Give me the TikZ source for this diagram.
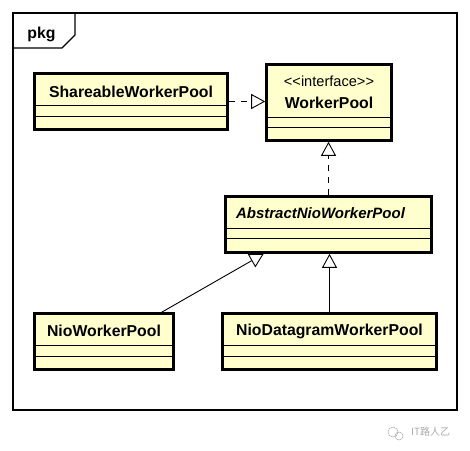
\documentclass[tikz,border=0pt]{standalone}
\usepackage{fontspec}
\setmainfont{Liberation Sans}
\newfontfamily\cjk{Noto Sans CJK SC}
\usetikzlibrary{arrows.meta,calc}
\definecolor{umlyellow}{RGB}{255,255,206}
\definecolor{wmgray}{RGB}{170,170,170}
\begin{document}
\begin{tikzpicture}[x=1pt,y=-1pt,
  clsbox/.style={draw=black, line width=2.6pt, fill=umlyellow, rectangle, inner sep=0pt, minimum height=56pt},
  divider/.style={draw=black, line width=0.9pt},
  clsname/.style={font=\fontsize{15.8}{18}\selectfont\bfseries, inner sep=0pt, anchor=center},
  stereo/.style={font=\fontsize{14.6}{17}\selectfont, inner sep=0pt, anchor=center},
  realize/.style={draw=black, line width=0.9pt, dash pattern=on 6pt off 6pt, -{Triangle[open, length=14pt, width=15pt, fill=white]}},
  generalize/.style={draw=black, line width=0.9pt, -{Triangle[open, length=14pt, width=15pt, fill=white]}},
  frameline/.style={draw=black, line width=1.2pt}
]
\useasboundingbox (0,0) rectangle (470,450);
\fill[white] (0,0) rectangle (470,450);

% package frame
\draw[frameline] (13,13) rectangle (457,410);
\draw[frameline] (13,48) -- (62,48) -- (75,35) -- (75,13);
\node[clsname, anchor=base] (pkg) at (41.5,38.5) {pkg};

% classes
\node[clsbox, minimum width=193pt, minimum height=56pt] (share) at (131,101.5) {};
\node[clsbox, minimum width=125pt, minimum height=76pt] (worker) at (329,102.5) {};
\node[clsbox, minimum width=206pt] (abstract) at (328.5,224.5) {};
\node[clsbox, minimum width=139pt] (nio) at (104,341.5) {};
\node[clsbox, minimum width=214pt] (dgram) at (329.5,341.5) {};

% dividers
\draw[divider] (share.west |- 0,105) -- (share.east |- 0,105);
\draw[divider] (share.west |- 0,116) -- (share.east |- 0,116);
\draw[divider] (worker.west |- 0,117) -- (worker.east |- 0,117);
\draw[divider] (worker.west |- 0,127) -- (worker.east |- 0,127);
\draw[divider] (abstract.west |- 0,228) -- (abstract.east |- 0,228);
\draw[divider] (abstract.west |- 0,238) -- (abstract.east |- 0,238);
\draw[divider] (nio.west |- 0,345) -- (nio.east |- 0,345);
\draw[divider] (nio.west |- 0,356) -- (nio.east |- 0,356);
\draw[divider] (dgram.west |- 0,345) -- (dgram.east |- 0,345);
\draw[divider] (dgram.west |- 0,356) -- (dgram.east |- 0,356);

% class names
\node[clsname] (shareT) at (131,92) {ShareableWorkerPool};
\node[stereo] (workerS) at (329,81) {<\kern0pt<interface>\kern0pt>};
\node[clsname] (workerT) at (329,103) {WorkerPool};
\node[clsname, font=\fontsize{15}{18}\selectfont\bfseries\itshape] (abstractT) at (320.5,213) {AbstractNioWorkerPool};
\node[clsname] (nioT) at (104,331) {NioWorkerPool};
\node[clsname] (dgramT) at (329.5,331) {NioDatagramWorkerPool};

% connectors
\draw[realize] (share.east) -- (share.east -| worker.west);
\draw[realize] (abstract.north) -- (abstract.north |- worker.south);
\coordinate (nioTop) at ($(nio.north west)+(128.5,0)$);
\coordinate (absLeft) at ($(abstract.south west)+(39.5,0)$);
\draw[generalize] (nioTop) -- (absLeft);
\draw[generalize] (dgram.north) -- (dgram.north |- abstract.south);

% watermark
\draw[wmgray, line width=0.5pt] (393,432) circle (5pt);
\draw[wmgray, line width=0.5pt] (399,436) circle (4pt);
\node[text=wmgray, font=\cjk\fontsize{10}{12}\selectfont, inner sep=0pt, anchor=west] (wm) at (411,432) {IT路人乙};
\end{tikzpicture}
\end{document}
